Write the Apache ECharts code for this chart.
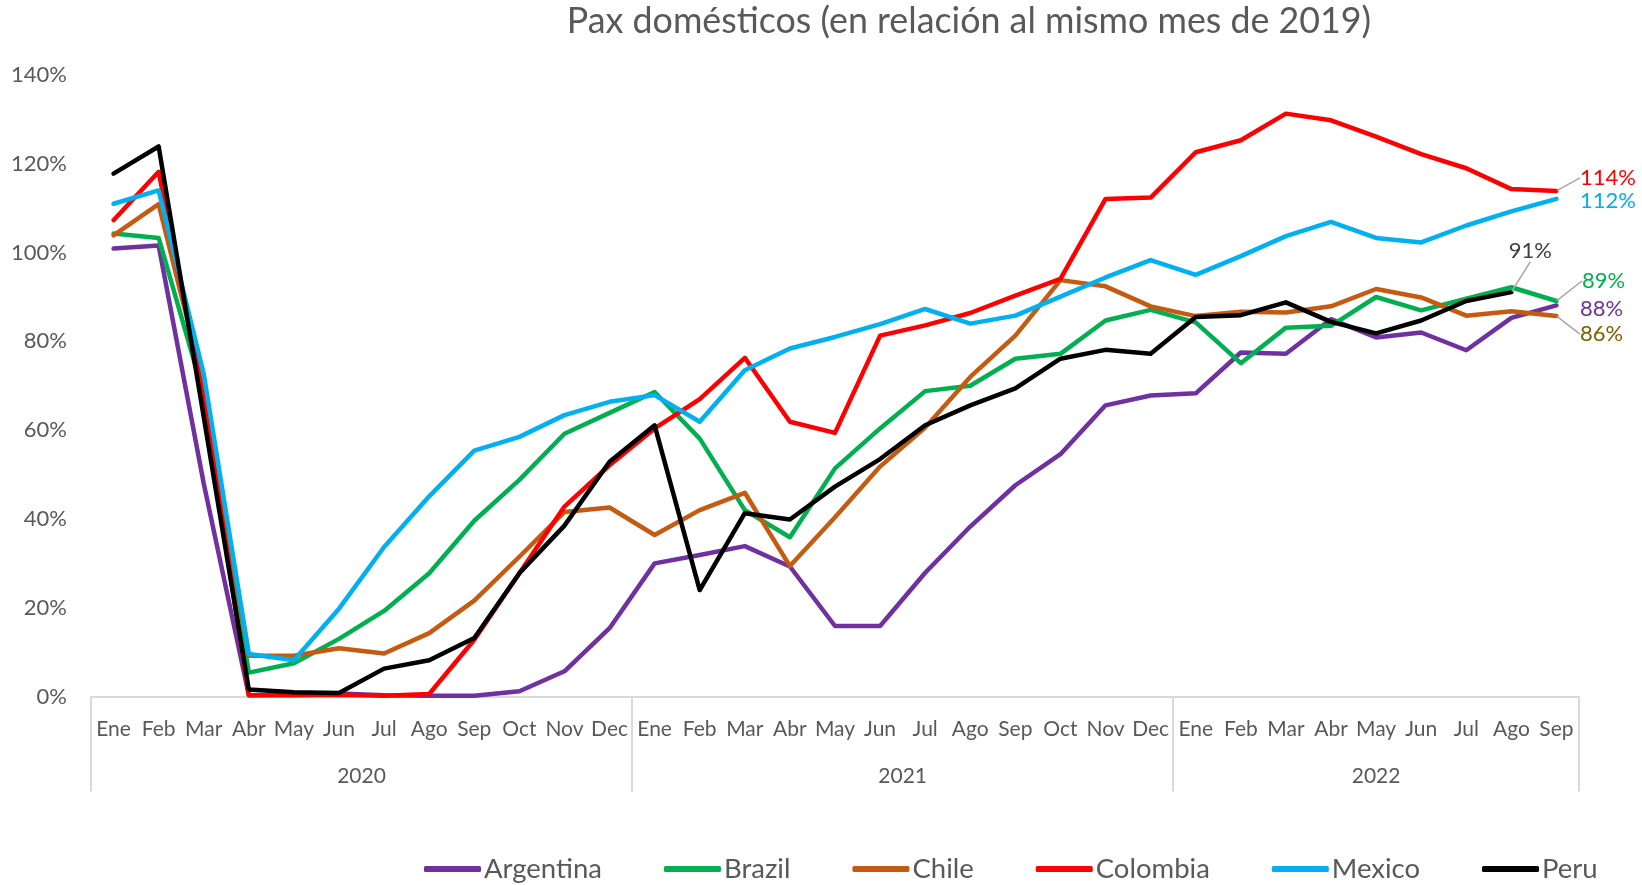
<!DOCTYPE html>
<html>
<head>
<meta charset="utf-8">
<script src="https://cdn.jsdelivr.net/npm/echarts@6/dist/echarts.min.js"></script>
<style>
  html, body { margin: 0; padding: 0; background: #ffffff; }
  #chart { width: 1642px; height: 885px; }
</style>
</head>
<body>
<div id="chart"></div>
<script>
// ---------- DATA ----------
const categories = [
  'Ene','Feb','Mar','Abr','May','Jun','Jul','Ago','Sep','Oct','Nov','Dec',
  'Ene','Feb','Mar','Abr','May','Jun','Jul','Ago','Sep','Oct','Nov','Dec',
  'Ene','Feb','Mar','Abr','May','Jun','Jul','Ago','Sep'
];
const years = ['2020', '2021', '2022'];
const monthsPerYear = [12, 12, 9];
const yTicks = [0, 20, 40, 60, 80, 100, 120, 140];

const argentina = [100.9, 101.6, 48, 0.3, 0.5, 0.7, 0.3, 0.2, 0.2, 1.2, 5.7, 15.4,
                   30.0, 31.9, 33.9, 29.3, 15.9, 15.9, 27.9, 38.3, 47.6, 54.6, 65.6, 67.8,
                   68.3, 77.5, 77.2, 85.0, 80.9, 82.0, 78.0, 85.3, 88.1];
const brazil    = [104.3, 103.3, 68, 5.4, 7.5, 13.0, 19.3, 27.8, 39.6, 48.8, 59.2, 63.9,
                   68.6, 58.1, 42.0, 35.9, 51.4, 60.4, 68.8, 70.0, 76.1, 77.2, 84.7, 87.1,
                   84.3, 75.1, 83.1, 83.5, 90.0, 87.0, 89.6, 92.2, 89.1];
const chile     = [103.9, 110.9, 70, 9.2, 9.2, 10.9, 9.7, 14.3, 21.6, 31.5, 41.6, 42.6,
                   36.4, 42.0, 45.9, 29.4, 40.4, 51.8, 60.6, 72.0, 81.3, 93.8, 92.4, 87.9,
                   85.7, 86.7, 86.5, 87.9, 91.8, 89.9, 85.8, 86.8, 85.7];
const colombia  = [107.3, 118.2, 67, 0.3, 0.3, 0.4, 0.2, 0.6, 12.8, 27.8, 42.8, 52.1,
                   60.4, 67.0, 76.3, 61.9, 59.4, 81.3, 83.6, 86.4, 90.3, 94.1, 112.1, 112.4,
                   122.6, 125.3, 131.3, 129.8, 126.1, 122.2, 119.0, 114.3, 113.9];
const mexico    = [111.0, 114.0, 72.7, 9.6, 8.2, 19.8, 33.7, 45.1, 55.4, 58.5, 63.4, 66.4,
                   67.9, 61.9, 73.5, 78.4, 81.0, 83.9, 87.3, 84.0, 85.8, 90.1, 94.4, 98.3,
                   95.0, 99.2, 103.7, 106.9, 103.3, 102.3, 106.1, 109.3, 112.1];
const peru      = [117.8, 123.9, 63, 1.6, 1.0, 0.8, 6.3, 8.2, 13.2, 27.8, 38.5, 52.9,
                   61.1, 24.0, 41.3, 39.9, 47.3, 53.5, 61.1, 65.6, 69.4, 76.1, 78.1, 77.2,
                   85.5, 85.9, 88.8, 84.4, 81.8, 84.7, 89.1, 91.1];

const seriesNames = ['Argentina', 'Brazil', 'Chile', 'Colombia', 'Mexico', 'Peru'];
const seriesValues = [argentina, brazil, chile, colombia, mexico, peru];

// ---------- STYLE ----------
const FONT = 'Lato, "Open Sans", sans-serif';
const GRAY = '#595959';
const lineColors = ['#7030A0', '#00B050', '#C55A11', '#FF0000', '#00B0F0', '#000000'];
const labelStyles = [
  { color: '#7030A0', pos: 'right', dx: 18, dy: 3,   guide: false },
  { color: '#00B050', pos: 'right', dx: 20, dy: -20, guide: true },
  { color: '#7F6000', pos: 'right', dx: 18, dy: 18,  guide: true },
  { color: '#FF0000', pos: 'right', dx: 18, dy: -13, guide: true },
  { color: '#00B0F0', pos: 'right', dx: 18, dy: 2,   guide: false },
  { color: '#404040', pos: 'top',   dx: 19, dy: -25, guide: true }
];

// year separators and label positions derived from month counts
const yearBounds = [0];
monthsPerYear.forEach(n => yearBounds.push(yearBounds[yearBounds.length - 1] + n));
const yearCenters = monthsPerYear.map((n, i) => yearBounds[i] + n / 2);

const series = seriesNames.map((name, si) => {
  const vals = seriesValues[si];
  const ls = labelStyles[si];
  return {
    name: name,
    type: 'line',
    xAxisIndex: 0,
    yAxisIndex: 0,
    symbol: 'none',
    showSymbol: true,
    smooth: false,
    z: 2 + si,
    lineStyle: { color: lineColors[si], width: 4.5, cap: 'round', join: 'round' },
    itemStyle: { color: lineColors[si] },
    emphasis: { disabled: true },
    data: vals.map((v, i) => i === vals.length - 1 ? {
      value: v,
      symbol: 'circle',
      symbolSize: 1,
      label: {
        show: true,
        position: ls.pos,
        distance: 5,
        color: ls.color,
        fontFamily: FONT,
        fontSize: 22,
        formatter: p => Math.round(p.value) + '%'
      }
    } : v),
    labelLayout: { dx: ls.dx, dy: ls.dy },
    labelLine: { show: ls.guide, lineStyle: { color: '#A6A6A6', width: 1.5 } }
  };
});

const chart = echarts.init(document.getElementById('chart'), null, { renderer: 'canvas' });
chart.setOption({
  animation: false,
  backgroundColor: '#ffffff',
  title: {
    text: 'Pax domésticos (en relación al mismo mes de 2019)',
    left: 969,
    top: 3,
    padding: 0,
    textAlign: 'center',
    textStyle: { color: GRAY, fontFamily: FONT, fontSize: 35.8, fontWeight: 'normal' }
  },
  grid: { left: 91, right: 63, top: 75, bottom: 188.4, containLabel: false },
  legend: {
    data: seriesNames.map(n => ({ name: n, icon: 'roundRect' })),
    left: 424,
    top: 855,
    padding: 0,
    itemGap: 62,
    itemWidth: 57,
    itemHeight: 6,
    textStyle: { color: GRAY, fontFamily: FONT, fontSize: 27.5, padding: [0, 0, 0, -2] }
  },
  xAxis: [
    {
      type: 'category',
      data: categories,
      boundaryGap: true,
      position: 'bottom',
      axisLine: { show: true, lineStyle: { color: '#D9D9D9', width: 2 } },
      axisTick: { show: false },
      axisLabel: { interval: 0, color: GRAY, fontFamily: FONT, fontSize: 21, margin: 22, hideOverlap: false },
      splitLine: { show: false }
    },
    {
      type: 'value',
      min: 0,
      max: yearBounds[yearBounds.length - 1],
      position: 'bottom',
      axisLine: { show: false },
      axisTick: {
        show: true,
        customValues: yearBounds,
        length: 95,
        lineStyle: { color: '#D9D9D9', width: 2 }
      },
      axisLabel: {
        show: true,
        customValues: yearCenters,
        formatter: v => years[yearCenters.indexOf(v)],
        color: GRAY, fontFamily: FONT, fontSize: 21, margin: 69
      },
      splitLine: { show: false }
    }
  ],
  yAxis: {
    type: 'value',
    min: yTicks[0],
    max: yTicks[yTicks.length - 1],
    interval: 20,
    axisLine: { show: false },
    axisTick: { show: false },
    splitLine: { show: false },
    axisLabel: { color: GRAY, fontFamily: FONT, fontSize: 22, margin: 24, formatter: '{value}%' }
  },
  series: series
});
</script>
</body>
</html>
